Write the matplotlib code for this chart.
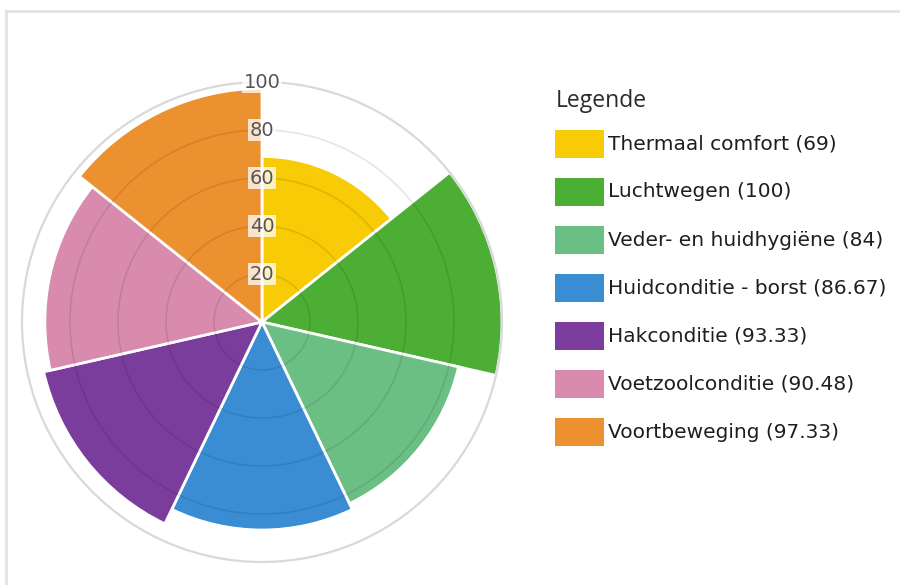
import matplotlib.pyplot as plt
import numpy as np
from matplotlib.patches import Rectangle
from matplotlib.lines import Line2D

# data
labels = ["Thermaal comfort", "Luchtwegen", "Veder- en huidhygiëne",
          "Huidconditie - borst", "Hakconditie", "Voetzoolconditie",
          "Voortbeweging"]
values = [69, 100, 84, 86.67, 93.33, 90.48, 97.33]
value_text = ["69", "100", "84", "86.67", "93.33", "90.48", "97.33"]
colors = ["#F7CB05", "#4DAE35", "#6CBF84", "#3A8DD3", "#7B3D9B",
          "#D98BAE", "#EC9130"]
r_ticks = [20, 40, 60, 80, 100]

W, H = 900, 585


def px(x, y):
    # pixel (from top-left) -> figure fraction
    return x / W, 1 - y / H


fig = plt.figure(figsize=(9, 5.85), dpi=100)
fig.patch.set_facecolor("white")

# light frame around the panel
fig.add_artist(Line2D([6 / W, 1], [1 - 11 / H, 1 - 11 / H], color="#e3e3e3", lw=2))
fig.add_artist(Line2D([6 / W, 6 / W], [0, 1 - 11 / H], color="#e3e3e3", lw=2))

cx, cy, R = 262, 322, 240
ax = fig.add_axes([(cx - R) / W, (H - cy - R) / H, 2 * R / W, 2 * R / H],
                  projection="polar")
ax.set_theta_zero_location("N")
ax.set_theta_direction(-1)

n = len(values)
width = 2 * np.pi / n
theta = np.arange(n) * width
ax.bar(theta, values, width=width, align="edge", color=colors,
       edgecolor="white", linewidth=2, zorder=2)

ax.set_ylim(0, 100)
ax.set_xticks([])
ax.set_yticks([])
ax.grid(False)
ax.spines["polar"].set_color("#d9d9d9")
ax.spines["polar"].set_linewidth(1.6)

# ring grid lines drawn over the wedges
tt = np.linspace(0, 2 * np.pi, 400)
for r in r_ticks[:-1]:
    ax.plot(tt, np.full_like(tt, r), color="black", alpha=0.1, lw=1.2, zorder=3)

# radial scale along the top axis
ax.plot([0, 0], [0, 100], color="white", lw=1.5, zorder=3)
for r in r_ticks:
    ax.text(0, r, str(r), ha="center", va="center", fontsize=14,
            color="#555555", family="DejaVu Sans", zorder=4,
            bbox=dict(facecolor="white", edgecolor="none", alpha=0.75,
                      boxstyle="square,pad=0.1"))

# legend
tx, ty = px(556, 101)
fig.text(tx, ty, "Legende", fontsize=16.5, color="#2b2b2b",
         family="Open Sans", ha="left", va="center")
for i, (lab, vt, c) in enumerate(zip(labels, value_text, colors)):
    yc = 144 + i * 48
    x0, y0 = px(555, yc + 14)
    fig.add_artist(Rectangle((x0, y0), 49 / W, 28 / H, facecolor=c,
                             edgecolor="none", transform=fig.transFigure))
    lx, ly = px(608, yc)
    fig.text(lx, ly, "%s (%s)" % (lab, vt), fontsize=14.5, color="#1e1e1e",
             family="DejaVu Sans", ha="left", va="center")

plt.savefig("out.png", dpi=100)
